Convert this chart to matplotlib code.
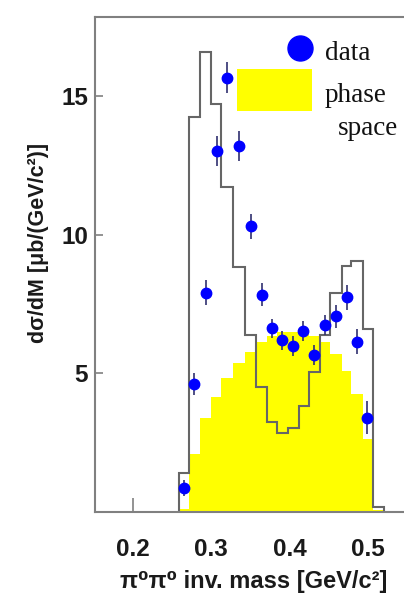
import numpy as np
import matplotlib
matplotlib.use("Agg")
import matplotlib.pyplot as plt
from matplotlib.patches import Rectangle

# pi0 pi0 invariant mass spectrum
bin_edges = [0.2591, 0.2719, 0.2856, 0.2992, 0.3124, 0.3281, 0.3430, 0.3571,
             0.3708, 0.3839, 0.3980, 0.4114, 0.4254, 0.4388, 0.4516, 0.4665,
             0.4784, 0.4933, 0.5068, 0.5205]

# open histogram (outline)
hist_vals = [1.40, 14.26, 16.60, 14.74, 11.72, 8.86, 6.39, 4.52, 3.26, 2.84,
             3.02, 3.84, 5.04, 6.39, 7.92, 8.88, 9.06, 6.60, 0.19]

# phase space (yellow)
phase_vals = [0.12, 2.09, 3.38, 4.16, 4.83, 5.37, 5.79, 6.15, 6.35, 6.50,
              6.50, 6.45, 6.35, 6.15, 5.70, 5.10, 4.26, 2.62, 0.08]

# data points
data_x = [0.2648, 0.2783, 0.2932, 0.3069, 0.3204, 0.3354, 0.3503, 0.3644,
          0.3771, 0.3907, 0.4040, 0.4175, 0.4312, 0.4452, 0.4593, 0.4729,
          0.4857, 0.4992]
data_y = [0.86, 4.62, 7.92, 13.03, 15.68, 13.22, 10.32, 7.85, 6.63, 6.20,
          5.99, 6.53, 5.67, 6.75, 7.06, 7.75, 6.15, 3.40]
data_err = [0.30, 0.40, 0.45, 0.55, 0.55, 0.55, 0.45, 0.40, 0.35, 0.35,
            0.35, 0.35, 0.35, 0.35, 0.40, 0.45, 0.45, 0.60]

W, H = 404, 597
fig = plt.figure(figsize=(W / 100, H / 100), dpi=100)
ax = fig.add_axes([95 / W, (H - 512) / H, (W - 95) / W, (512 - 17) / H])

ax.set_axisbelow(True)
ax.stairs(phase_vals, bin_edges, fill=True, color="#ffff00", lw=0, zorder=1)
ax.stairs(hist_vals, bin_edges, color="#666666", lw=1.5, zorder=2)
ax.errorbar(data_x, data_y, yerr=data_err, fmt="o", color="#0000ff",
            ms=7.5, mec="#0000ff", ecolor="#303070", elinewidth=1.2,
            capsize=0, zorder=3)

ax.set_xlim(0.1515, 0.5461)
ax.set_ylim(0, 17.87)
ax.set_xticks([0.2, 0.3, 0.4, 0.5])
ax.set_xticklabels(["0.2", "0.3", "0.4", "0.5"])
ax.set_yticks([5, 10, 15])

tick_font = dict(family=["Liberation Sans", "DejaVu Sans"], weight="bold",
                 size=17.5)
for lab in ax.get_xticklabels() + ax.get_yticklabels():
    lab.set_fontproperties(matplotlib.font_manager.FontProperties(**tick_font))
    lab.set_color("#1a1a1a")
ax.tick_params(axis="x", direction="in", length=10, width=1.2,
               color="#808080", pad=19)
ax.tick_params(axis="y", direction="in", length=6, width=1.2,
               color="#808080", pad=5)

for side in ["left", "top", "bottom"]:
    ax.spines[side].set_color("#808080")
    ax.spines[side].set_linewidth(1.5)
ax.spines["right"].set_visible(False)

ax.set_xlabel("π⁰π⁰ inv. mass [GeV/c²]", family=["Liberation Sans", "DejaVu Sans"],
              weight="bold", size=17, color="#1a1a1a")
ax.xaxis.set_label_coords(0.513, -0.141)
ax.xaxis.label.set_verticalalignment("center")
ax.set_ylabel("dσ/dM [μb/(GeV/c²)]", family=["Liberation Sans", "DejaVu Sans"],
              weight="bold", size=15.5, color="#1a1a1a")
ax.yaxis.set_label_coords(-0.184, 0.543)
ax.yaxis.label.set_verticalalignment("center")

# legend, drawn by hand to match the layout
ax.plot([0.662], [0.937], "o", color="#0000ff", ms=18, transform=ax.transAxes,
        clip_on=False, zorder=4)
ax.add_patch(Rectangle((0.4595, 0.810), 0.2427, 0.0848, color="#ffff00",
                       transform=ax.transAxes, lw=0, zorder=4))
serif = ["Liberation Serif", "DejaVu Serif"]
ax.text(0.744, 0.913, "data", family=serif, size=19.5, transform=ax.transAxes,
        va="baseline", color="#111111")
ax.text(0.744, 0.829, "phase", family=serif, size=19.5, transform=ax.transAxes,
        va="baseline", color="#111111")
ax.text(0.786, 0.762, "space", family=serif, size=19.5, transform=ax.transAxes,
        va="baseline", color="#111111")

fig.savefig("out.png", dpi=100)
